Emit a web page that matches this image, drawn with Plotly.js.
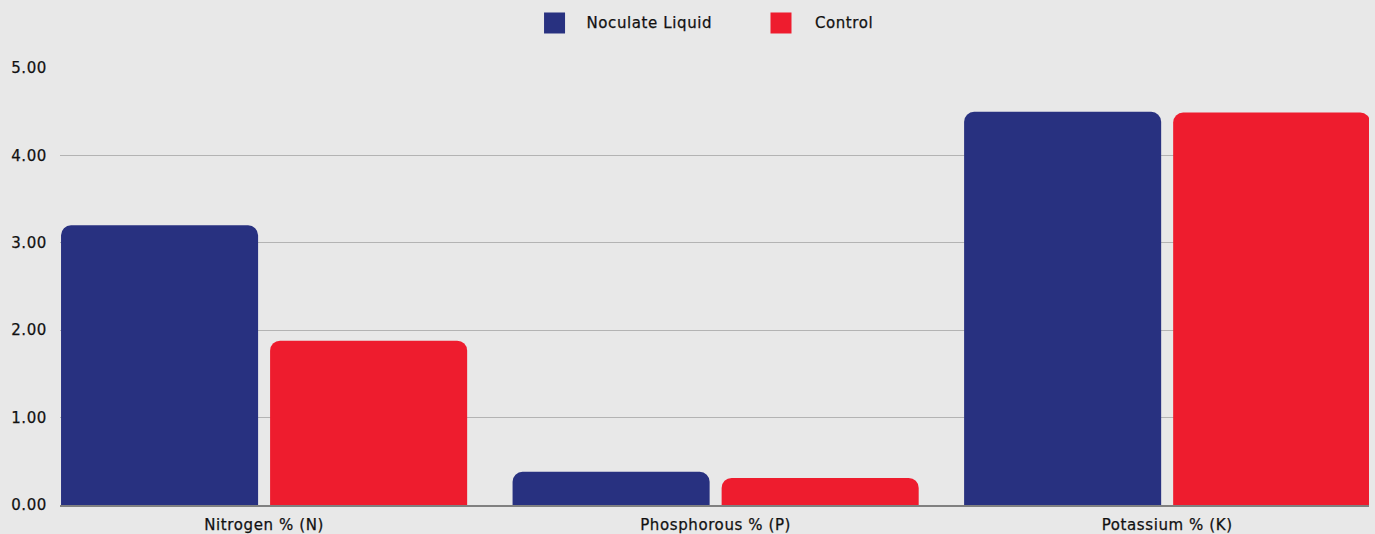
<!DOCTYPE html>
<html>
<head>
<meta charset="utf-8">
<script src="https://cdn.plot.ly/plotly-3.0.1.min.js"></script>
<style>
html,body{margin:0;padding:0;background:#e8e8e8;}
#chart{width:1375px;height:534px;}
#chart svg text{letter-spacing:0.6px; stroke:#111; stroke-width:0.25px;}
</style>
</head>
<body>
<div id="chart"></div>
<script>
var categories = ['Nitrogen % (N)', 'Phosphorous % (P)', 'Potassium % (K)'];
var seriesNames = ['Noculate Liquid', 'Control'];
var noculate = [3.20, 0.38, 4.50];
var control = [1.88, 0.31, 4.49];
var colors = ['#283180', '#ee1c2e'];

var FONT = '"DejaVu Sans", sans-serif';

var traces = [
  {type:'bar', x:categories, y:noculate, name:seriesNames[0], marker:{color:colors[0]}, showlegend:false, hoverinfo:'y'},
  {type:'bar', x:categories, y:control, name:seriesNames[1], marker:{color:colors[1]}, showlegend:false, hoverinfo:'y'}
];

// custom legend (layout items, not data marks)
var legendX = [0.3778, 0.5508];
var shapes = [], annotations = [];
seriesNames.forEach(function(n, i){
  shapes.push({type:'rect', xref:'paper', yref:'paper', xsizemode:'pixel', ysizemode:'pixel',
    xanchor:legendX[i], yanchor:1.103, x0:-10.5, x1:10.5, y0:-10.5, y1:10.5,
    fillcolor:colors[i], line:{width:0}});
  annotations.push({xref:'paper', yref:'paper', x:legendX[i], y:1.103, xshift:34, xanchor:'left', yanchor:'middle',
    text:n, showarrow:false, font:{family:FONT, size:15, color:'#111'}});
});

var layout = {
  width:1375, height:534,
  paper_bgcolor:'#e8e8e8', plot_bgcolor:'#e8e8e8',
  margin:{l:60, r:6, t:68, b:29},
  barmode:'group', bargap:0.074, bargroupgap:0.0574, barcornerradius:10,
  showlegend:false,
  xaxis:{type:'category', range:[-0.452, 2.447], showgrid:false, showline:true, linecolor:'#808080', linewidth:2,
    ticks:'', tickfont:{family:FONT, size:15, color:'#111'}, ticklabelstandoff:5, fixedrange:true},
  yaxis:{range:[0,5], dtick:1, tickformat:'.2f', showgrid:true, gridcolor:'#b3b3b3', gridwidth:1, zeroline:false,
    ticks:'', tickfont:{family:FONT, size:15, color:'#111'}, ticklabelstandoff:12, fixedrange:true},
  shapes:shapes, annotations:annotations,
  font:{family:FONT}
};

Plotly.newPlot('chart', traces, layout, {displayModeBar:false, staticPlot:true});
</script>
</body>
</html>
